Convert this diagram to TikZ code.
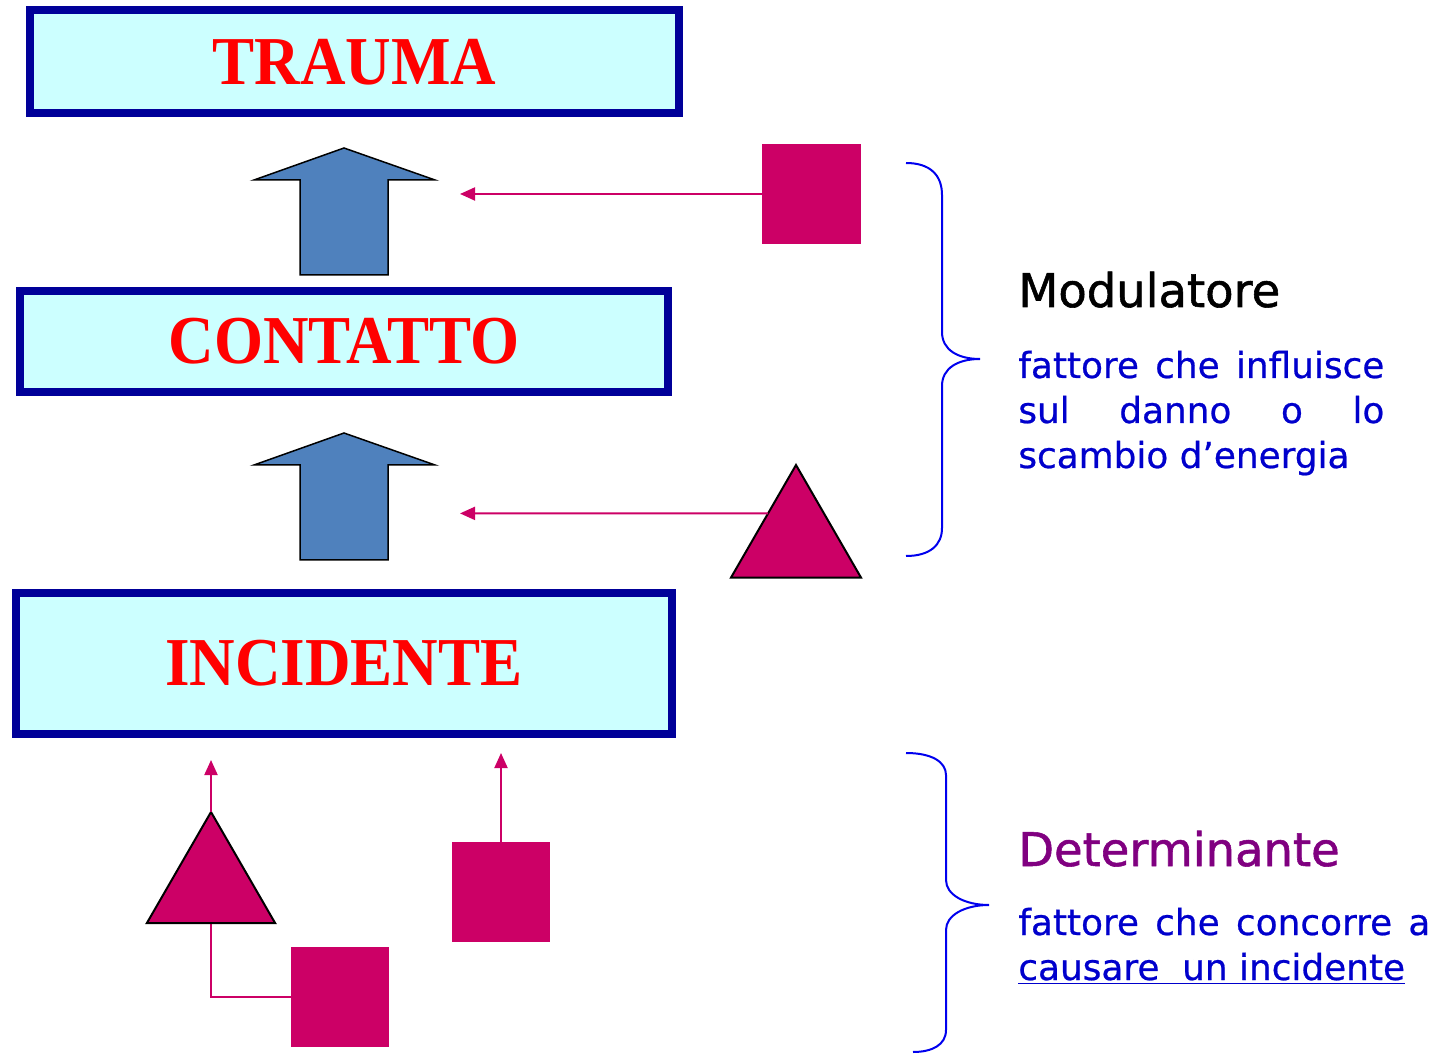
\documentclass[tikz,border=0pt]{standalone}
\usepackage{fontspec}
\usetikzlibrary{shapes.geometric,arrows.meta,calc}
\newfontfamily\titlefont[FakeStretch=0.92]{Liberation Serif}
\newfontfamily\notefont[FakeBold=0.6]{DejaVu Sans}
\newfontfamily\headfont[FakeBold=1.2]{DejaVu Sans}
\definecolor{frameblue}{HTML}{000099}
\definecolor{boxfill}{HTML}{CCFFFF}
\definecolor{arrowblue}{HTML}{4F81BD}
\definecolor{factor}{HTML}{CC0066}
\definecolor{notetext}{HTML}{0000CC}
\definecolor{braceblue}{HTML}{0000EE}
\definecolor{detpurple}{HTML}{800080}

\begin{document}
\begin{tikzpicture}[x=0.2mm, y=-0.2mm,
	stage/.style={draw=frameblue, line width=1.6mm, fill=boxfill, inner sep=0, outer sep=0, text=red, font=\titlefont\bfseries\fontsize{39}{39}\selectfont},
	square/.style={fill=factor, minimum width=19.8mm, minimum height=20mm, inner sep=0, outer sep=0},
	tri/.style={regular polygon, regular polygon sides=3, draw=black, line width=0.4mm, fill=factor, inner sep=0, outer sep=0},
	link/.style={draw=factor, line width=0.4mm},
	linkarrow/.style={link, -{Triangle[length=3mm, width=2.6mm]}},
	bigarrow/.style={draw=black, line width=0.3mm, fill=arrowblue},
	brace/.style={draw=braceblue, line width=0.4mm},
	head/.style={anchor=base west, inner sep=0, font=\headfont\fontsize{26.4}{26.4}\selectfont},
	note/.style={anchor=base west, inner sep=0, text=notetext, font=\notefont\fontsize{20.4}{20.4}\selectfont}
	]
	\useasboundingbox (0,0) rectangle (1445,1054);
	
	% the three stages
	\node[stage, minimum width=129.8mm, minimum height=20.6mm] (trauma) at (354.5,62) {TRAUMA};
	\node[stage, minimum width=129.6mm, minimum height=20.2mm] (contatto) at (344,341.5) {CONTATTO};
	\node[stage, minimum width=131.2mm, minimum height=28.2mm] (incidente) at (344,663.5) {INCIDENTE};
	
	\foreach \dy in {0,285}
		\draw[bigarrow, shift={(0,\dy)}] (344,148) -- (435,180) -- (388,180) -- (388,275) -- (300,275) -- (300,180) -- (254,180) -- cycle;
	
	% modulators
	\node[square] (sq1) at (811.5,194) {};
	\node[tri, minimum size=30mm] (tri1) at (796,540) {};
	\coordinate (tip1) at (460,194);
	\coordinate (tip2) at (460,513.4);
	\draw[linkarrow] (sq1) -- (tip1);
	\draw[linkarrow] ($(tri1.corner 1)!0.43!(tri1.corner 2)$) -- (tip2);
	
	% determinants
	\node[square, minimum width=19.6mm] (sq2) at (340,997) {};
	\node[square, minimum width=19.6mm] (sq3) at (501,892) {};
	\coordinate (tip3) at (211,760);
	\coordinate (tip4) at (501,753);
	\draw[link] (sq2) -| (211,920);
	\node[tri, minimum size=29.6mm] (tri2) at (211,886) {};
	\draw[linkarrow] (tri2.corner 1) -- (tip3);
	\draw[linkarrow] (sq3) -- (tip4);
	
	% braces
	\draw[brace] (906,163) .. controls (930,163) and (942,175) .. (942,195) -- (942,332)
		.. controls (942,350) and (958,359) .. (980,359)
		.. controls (958,359) and (942,368) .. (942,386) -- (942,528)
		.. controls (942,545) and (930,556) .. (906,556);
	\draw[brace] (906,753) .. controls (932,753) and (946,762) .. (946,775) -- (946,880)
		.. controls (946,895) and (965,905) .. (989,905)
		.. controls (965,905) and (946,915) .. (946,930) -- (946,1030)
		.. controls (946,1045) and (932,1052) .. (913,1052);
	
	\node[head] (modhead) at (1018,307) {Modulatore};
	\node[note] (mod1) at (1018,378) {\makebox[73.2mm][s]{fattore che influisce}};
	\node[note] (mod2) at (1018,423) {\makebox[73.2mm][s]{sul danno o lo}};
	\node[note] (mod3) at (1018,468) {scambio d’energia};
	
	\node[head, text=detpurple] (dethead) at (1018,866) {Determinante};
	\node[note] (det1) at (1018,935) {\makebox[82.4mm][s]{fattore che concorre a}};
	\node[note] (det2) at (1018,980) {\underline{causare\ \ un incidente}};
\end{tikzpicture}
\end{document}
